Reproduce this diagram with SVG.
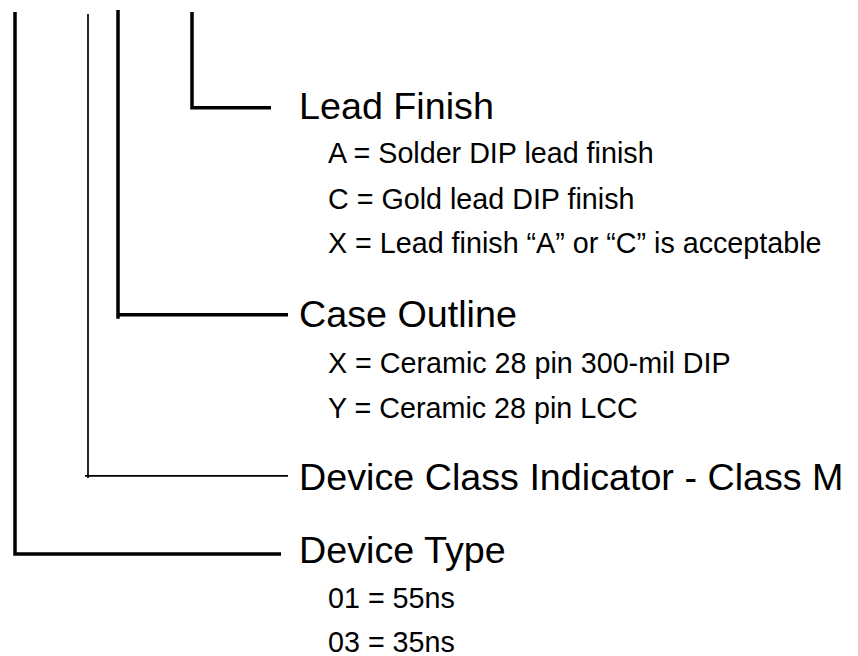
<svg xmlns="http://www.w3.org/2000/svg" width="858" height="656" viewBox="0 0 858 656">
<style>
.h{font-family:"Liberation Sans",Arial,sans-serif;font-size:37.7px;fill:#000}
.s{font-family:"Liberation Sans",Arial,sans-serif;font-size:28.7px;fill:#000}
.thick{fill:none;stroke:#000;stroke-width:3.5;stroke-linecap:butt}
.thin{fill:none;stroke:#000;stroke-width:1.7}
</style>
<rect width="858" height="656" fill="#fff"/>
<g id="connectors">
<path class="thick" d="M15,12 V555.7 M13.3,554 H281"/>
<path class="thin" d="M88,14 V478 M85,475.8 H288"/>
<path class="thick" d="M118,10 V318.7 M116.3,314.8 H288"/>
<path class="thick" d="M192,12 V109.5 M190.3,107.7 H271"/>
</g>
<g id="lead-finish">
<text class="h" x="299" y="119.3">Lead Finish</text>
<text class="s" x="328" y="163.3">A = Solder DIP lead finish</text>
<text class="s" x="328" y="208.5">C = Gold lead DIP finish</text>
<text class="s" x="328" y="252.7">X = Lead finish “A” or “C” is acceptable</text>
</g>
<g id="case-outline">
<text class="h" x="299" y="326.7">Case Outline</text>
<text class="s" x="328" y="373.3">X = Ceramic 28 pin 300-mil DIP</text>
<text class="s" x="328" y="417.5">Y = Ceramic 28 pin LCC</text>
</g>
<g id="device-class">
<text class="h" x="299" y="490">Device Class Indicator - Class M</text>
</g>
<g id="device-type">
<text class="h" x="299" y="563.3">Device Type</text>
<text class="s" x="328" y="608.3">01 = 55ns</text>
<text class="s" x="328" y="651.7">03 = 35ns</text>
</g>
</svg>
